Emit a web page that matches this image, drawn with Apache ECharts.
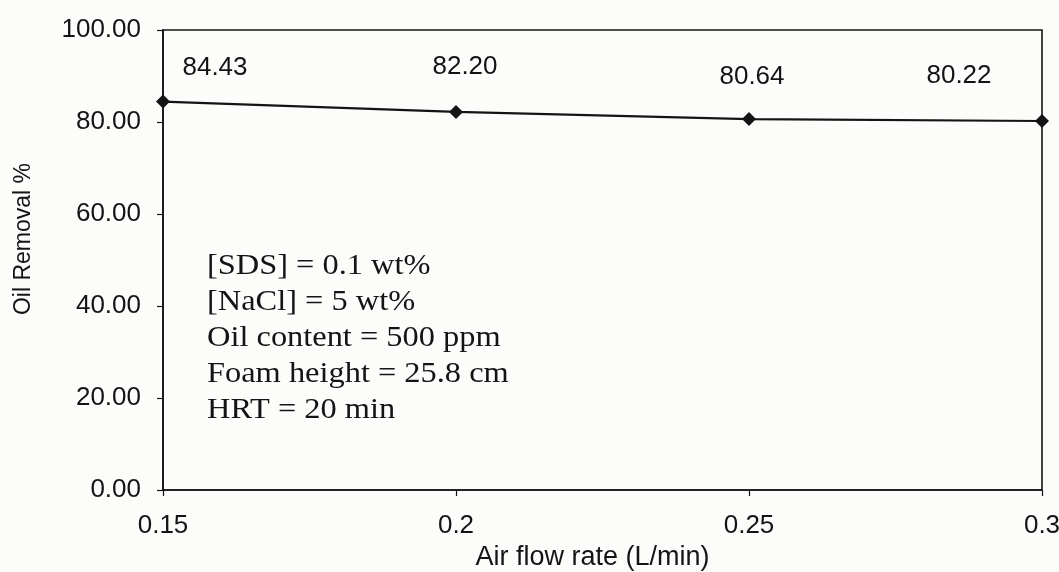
<!DOCTYPE html>
<html>
<head>
<meta charset="utf-8">
<script src="https://cdn.jsdelivr.net/npm/echarts@6/dist/echarts.min.js"></script>
<style>
  html, body { margin: 0; padding: 0; background: #fcfcfa; }
  #chart { width: 1059px; height: 572px; }
</style>
</head>
<body>
<div id="chart"></div>
<script>
// Air flow rate (L/min) vs. oil removal (%)
const airFlow = [0.15, 0.2, 0.25, 0.3];
const oilRemoval = [84.43, 82.20, 80.64, 80.22];
const xTickLabels = ['0.15', '0.2', '0.25', '0.3'];
const yTickLabels = ['0.00', '20.00', '40.00', '60.00', '80.00', '100.00'];
const conditions = [
  '[SDS] = 0.1 wt%',
  '[NaCl] = 5 wt%',
  'Oil content = 500 ppm',
  'Foam height = 25.8 cm',
  'HRT = 20 min'
];

// value labels sit above the points, nudged sideways like the spreadsheet layout
const labelShift = [[52, -34], [9, -45], [3, -42], [-83, -45]];

const ink = '#141414';
const sans = '"Liberation Sans", Arial, sans-serif';

const seriesData = airFlow.map((x, i) => ({
  value: [x, oilRemoval[i]],
  label: { offset: labelShift[i] }
}));

const chart = echarts.init(document.getElementById('chart'), null, { renderer: 'canvas' });

chart.setOption({
  backgroundColor: '#fcfcfa',
  animation: false,
  grid: {
    left: 163, right: 17, top: 30, bottom: 82,
    outerBoundsMode: 'none',
    show: true, borderColor: ink, borderWidth: 1.6, backgroundColor: 'transparent'
  },
  xAxis: {
    type: 'value',
    min: 0.15, max: 0.3, interval: 0.05,
    name: 'Air flow rate (L/min)',
    nameLocation: 'middle',
    nameGap: 54,
    nameTextStyle: { fontFamily: sans, fontSize: 27, color: ink, padding: [0, 20, 0, 0] },
    axisLine: { show: true, lineStyle: { color: ink, width: 1.6 } },
    axisTick: { show: true, length: 6, lineStyle: { color: ink, width: 1.2 } },
    axisLabel: {
      margin: 23, fontFamily: sans, fontSize: 26, color: ink,
      formatter: v => xTickLabels[Math.round((v - 0.15) / 0.05)]
    },
    splitLine: { show: false }
  },
  yAxis: {
    type: 'value',
    min: 0, max: 100, interval: 20,
    name: 'Oil Removal %',
    nameLocation: 'middle',
    nameGap: 128,
    nameTextStyle: { fontFamily: sans, fontSize: 23, color: ink, padding: [0, 0, 0, 42] },
    axisLine: { show: true, lineStyle: { color: ink, width: 1.6 } },
    axisTick: { show: true, length: 6, lineStyle: { color: ink, width: 1.2 } },
    axisLabel: {
      margin: 22, fontFamily: sans, fontSize: 26, color: ink,
      formatter: v => yTickLabels[Math.round(v / 20)]
    },
    splitLine: { show: false }
  },
  series: [{
    type: 'line',
    data: seriesData,
    symbol: 'diamond',
    symbolSize: 14,
    lineStyle: { color: ink, width: 2.2 },
    itemStyle: { color: ink },
    label: {
      show: true,
      position: 'inside',
      fontFamily: sans, fontSize: 26, color: ink,
      formatter: p => p.value[1].toFixed(2)
    }
  }],
  graphic: [{
    type: 'text',
    left: 207, top: 248,
    style: {
      text: conditions.join('\n'),
      font: '30px "Liberation Serif", "Times New Roman", serif',
      lineHeight: 36,
      fill: ink
    },
    scaleX: 1.08
  }]
});
</script>
</body>
</html>
